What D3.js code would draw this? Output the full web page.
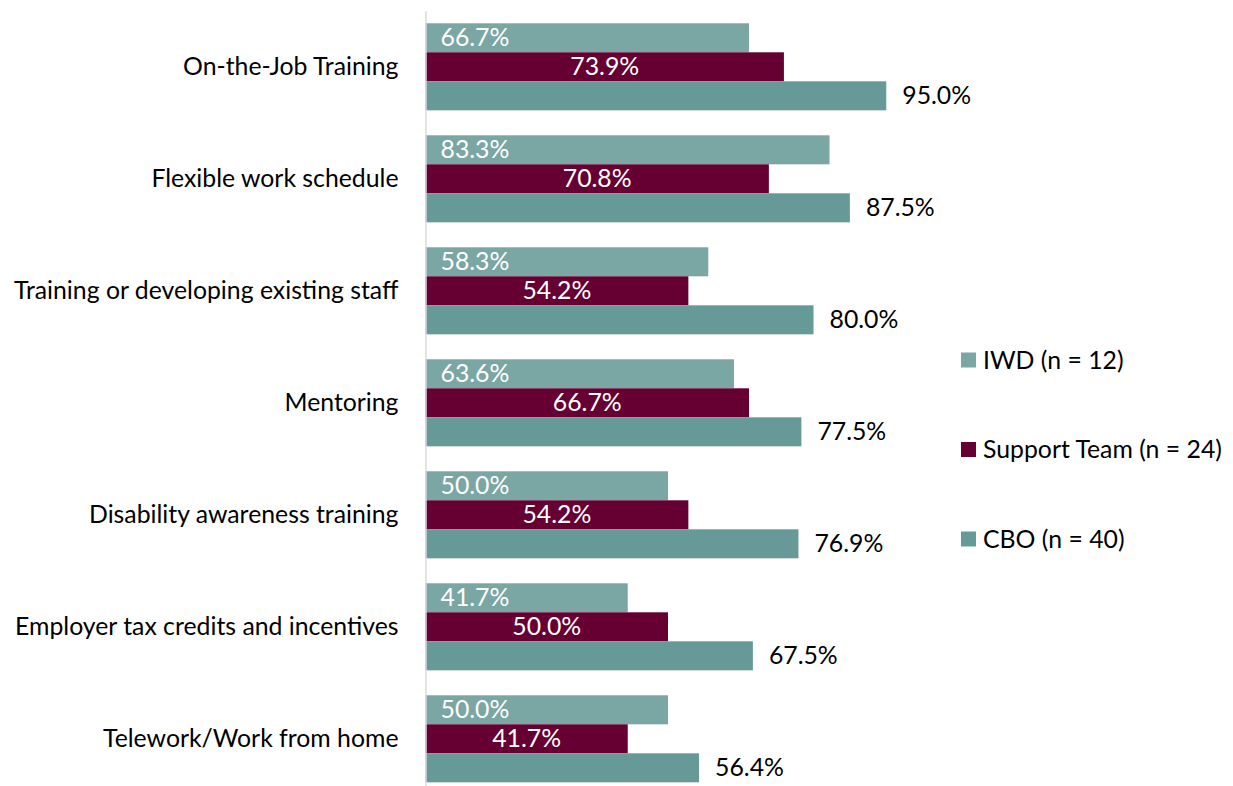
<!DOCTYPE html>
<html>
<head>
<meta charset="utf-8">
<script src="https://cdn.jsdelivr.net/npm/d3@7"></script>
<style>
  html, body { margin: 0; padding: 0; background: #fff; }
  svg { display: block; font-family: Lato, "Open Sans", sans-serif; }
</style>
</head>
<body>
<svg id="chart" width="1233" height="786"></svg>
<script>
// Share of respondents rating each workplace support as helpful, by group
const categories = [
  "On-the-Job Training",
  "Flexible work schedule",
  "Training or developing existing staff",
  "Mentoring",
  "Disability awareness training",
  "Employer tax credits and incentives",
  "Telework/Work from home"
];
const seriesNames = ["IWD (n = 12)", "Support Team (n = 24)", "CBO (n = 40)"];
const iwdValues = [66.7, 83.3, 58.3, 63.6, 50.0, 41.7, 50.0];
const supportTeamValues = [73.9, 70.8, 54.2, 66.7, 54.2, 50.0, 41.7];
const cboValues = [95.0, 87.5, 80.0, 77.5, 76.9, 67.5, 56.4];

const seriesValues = [iwdValues, supportTeamValues, cboValues];
const colors = ["#7aa6a4", "#660033", "#669a98"];

const svg = d3.select("#chart");
const fontSize = 24.8;
const axisX = 425.5;

const x = d3.scaleLinear().domain([0, 100]).range([axisX, axisX + 485]);
const y0 = d3.scaleBand().domain(categories)
  .range([10.8, 794.8]).paddingInner(0.223).paddingOuter(0.1115);
const y1 = d3.scaleBand().domain(seriesNames).range([0, y0.bandwidth()]);

const fmt = v => v.toFixed(1) + "%";

// Bars, grouped by category
const groups = svg.append("g").selectAll("g")
  .data(categories)
  .join("g")
  .attr("transform", d => `translate(0,${y0(d)})`);

groups.selectAll("rect")
  .data((c, i) => seriesNames.map((s, k) => ({ s, k, v: seriesValues[k][i] })))
  .join("rect")
  .attr("x", x(0))
  .attr("y", d => y1(d.s))
  .attr("width", d => x(d.v) - x(0))
  .attr("height", y1.bandwidth())
  .attr("fill", d => colors[d.k]);

// Value labels: IWD inside at base, Support Team centred, CBO outside end
groups.selectAll("text.val")
  .data((c, i) => seriesNames.map((s, k) => ({ s, k, v: seriesValues[k][i] })))
  .join("text")
  .attr("class", "val")
  .attr("x", d => d.k === 0 ? x(0) + 15 : d.k === 1 ? (x(0) + x(d.v)) / 2 : x(d.v) + 16)
  .attr("y", d => y1(d.s) + y1.bandwidth() / 2)
  .attr("dy", "0.35em")
  .attr("text-anchor", d => d.k === 1 ? "middle" : "start")
  .attr("fill", d => d.k === 2 ? "#000" : "#fff")
  .style("font-size", fontSize + "px")
  .text(d => fmt(d.v));

// Category axis
const axis = svg.append("g")
  .attr("transform", `translate(${axisX},0)`)
  .call(d3.axisLeft(y0).tickSize(0).tickPadding(27));
axis.select(".domain").attr("stroke", "#d9d9d9").attr("stroke-width", 1.5);
axis.selectAll("text")
  .style("font-size", fontSize + "px")
  .style("font-family", "Lato, 'Open Sans', sans-serif")
  .attr("fill", "#000");

// Legend
const legend = svg.append("g").selectAll("g")
  .data(seriesNames)
  .join("g")
  .attr("transform", (d, i) => `translate(961,${360 + i * 89.5})`);
legend.append("rect")
  .attr("x", 0).attr("y", -7.5)
  .attr("width", 15).attr("height", 15)
  .attr("fill", (d, i) => colors[i]);
legend.append("text")
  .attr("x", 22).attr("y", 0).attr("dy", "0.35em")
  .style("font-size", fontSize + "px")
  .attr("fill", "#000")
  .text(d => d);
</script>
</body>
</html>
